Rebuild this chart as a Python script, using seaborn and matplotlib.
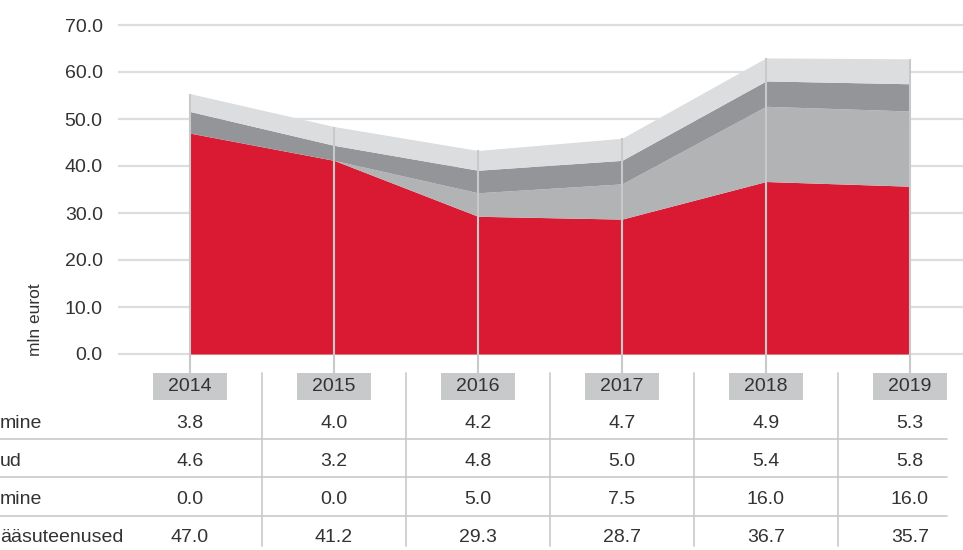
import matplotlib
matplotlib.use("Agg")
import matplotlib.pyplot as plt
import matplotlib.transforms as mtransforms
import seaborn as sns
import numpy as np

years = [2014, 2015, 2016, 2017, 2018, 2019]
row_labels = ["mine", "ud", "mine", "ääsuteenused"]
s_top = [3.8, 4.0, 4.2, 4.7, 4.9, 5.3]        # lightest gray
s_dark = [4.6, 3.2, 4.8, 5.0, 5.4, 5.8]       # dark gray
s_mid = [0.0, 0.0, 5.0, 7.5, 16.0, 16.0]      # middle gray
s_red = [47.0, 41.2, 29.3, 28.7, 36.7, 35.7]  # red
y_ticks = [0, 10, 20, 30, 40, 50, 60, 70]

sns.set_theme(style="white")
plt.rcParams['font.family'] = ['Liberation Sans', 'DejaVu Sans']

W, H = 963, 550
fig = plt.figure(figsize=(W / 100, H / 100), dpi=100)
FS = 14

def fx(px):
    return px / W

def fy(py):
    return 1 - py / H

left_px, right_px, top_px, bot_px = 118, 963, 10, 373
ppu = 4.7
y0_px = 354
ax = fig.add_axes([fx(left_px), fy(bot_px), fx(right_px - left_px), (bot_px - top_px) / H])
ax.set_xlim(2014 - 72 / 144, 2019 + (right_px - 910) / 144)
ax.set_ylim(-(bot_px - y0_px) / ppu, (y0_px - top_px) / ppu)
for sp in ax.spines.values():
    sp.set_visible(False)

text_c = "#333333"
grid_c = "#dcdddf"
vline_c = "#c8c9cb"
colors = ["#da1a32", "#b1b3b5", "#939598", "#dcdddf"]

xl = ax.get_xlim()
ax.hlines(y_ticks, xl[0], xl[1], colors=grid_c, lw=1.6, zorder=1)

ax.stackplot(years, s_red, s_mid, s_dark, s_top, colors=colors, zorder=2, lw=0)

totals = np.array(s_red) + np.array(s_mid) + np.array(s_dark) + np.array(s_top)
ax.vlines(years, ax.get_ylim()[0], totals, colors=vline_c, lw=1.5, zorder=3)

ax.set_yticks(y_ticks)
ax.set_yticklabels([f"{v:.1f}" for v in y_ticks], fontsize=FS, color=text_c)
ax.tick_params(axis="y", length=0, pad=11)
ax.set_xticks([])

fig.text(fx(36), fy(320), "mln eurot", rotation=90, ha="center", va="center",
         fontsize=12.5, color=text_c)

trans = mtransforms.blended_transform_factory(ax.transData, fig.transFigure)
for yr in years:
    ax.add_patch(plt.Rectangle((yr - 37 / 144, fy(400)), 74 / 144, 27 / H,
                               transform=trans, facecolor="#c8c9cb", edgecolor="none",
                               clip_on=False, zorder=3))
    ax.text(yr, fy(386.5), str(yr), transform=trans, ha="center", va="center",
            fontsize=FS, color=text_c, clip_on=False, zorder=4)

for yr in years[:-1]:
    ax.plot([yr + 0.5, yr + 0.5], [fy(373), fy(546)], transform=trans, color=vline_c,
            lw=1.2, clip_on=False)

for py in [439, 477, 516]:
    fig.add_artist(plt.Line2D([0, fx(947)], [fy(py), fy(py)], color=vline_c, lw=1.2))

rows = [s_top, s_dark, s_mid, s_red]
row_y = [423, 461.5, 500, 538]
for lab, vals, py in zip(row_labels, rows, row_y):
    fig.text(fx(0), fy(py), lab, ha="left", va="center", fontsize=FS, color=text_c)
    for yr, v in zip(years, vals):
        ax.text(yr, fy(py), f"{v:.1f}", transform=trans, ha="center", va="center",
                fontsize=FS, color=text_c, clip_on=False)

fig.savefig("out.png", dpi=100, facecolor="white")
